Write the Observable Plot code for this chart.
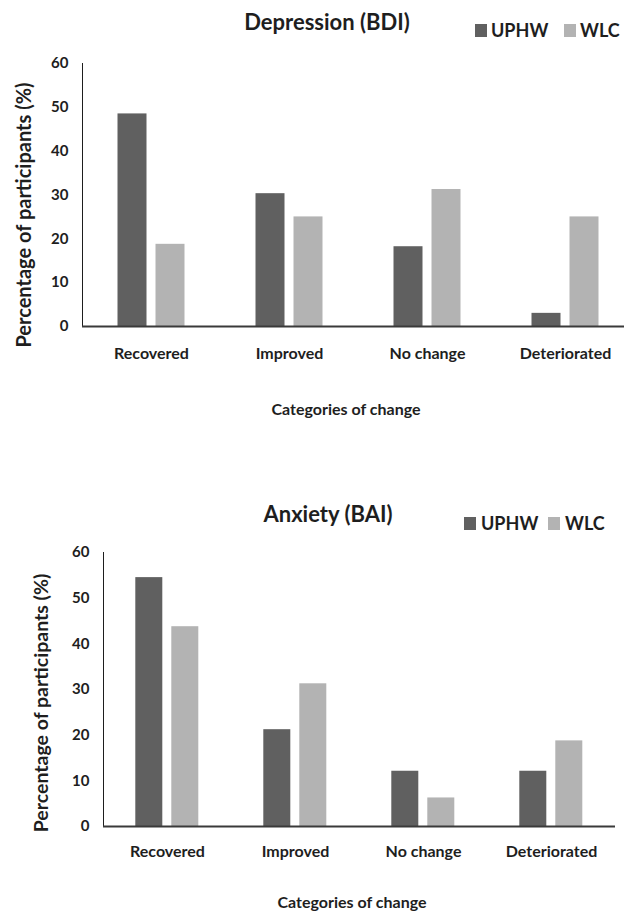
<!DOCTYPE html>
<html>
<head>
<meta charset="utf-8">
<script src="https://cdn.jsdelivr.net/npm/d3@7"></script>
<script src="https://cdn.jsdelivr.net/npm/@observablehq/plot@0.6"></script>
<style>
  html, body { margin: 0; padding: 0; background: #fff; overflow: hidden; }
  #page { position: relative; width: 624px; height: 916px; background: #fff; font-family: Lato, "Open Sans", sans-serif; font-weight: bold; color: #1e1e1e; }
  .abs { position: absolute; white-space: nowrap; line-height: 1; z-index: 2; }
  .c { transform: translate(-50%, -50%); }
  .l { transform: translateY(-50%); }
  .rot { transform: translate(-50%, -50%) rotate(-90deg); }
  .sw { position: absolute; width: 12px; height: 13px; z-index: 2; }
  .chart { position: absolute; left: 0; z-index: 1; }
  .chart svg { overflow: visible; }
  .chart [aria-label="y-axis tick label"] text, .chart g[aria-label="y-axis tick label"] { font-size: 15px; }
  .chart [aria-label="fx-axis tick label"] text, .chart g[aria-label="fx-axis tick label"] { font-size: 16px; }
</style>
</head>
<body>
<div id="page"></div>
<script>
// ---- data ----
const categories = ["Recovered", "Improved", "No change", "Deteriorated"];
const seriesNames = ["UPHW", "WLC"];
const depressionUPHW = [48.5, 30.3, 18.2, 3.0];
const depressionWLC = [18.75, 25, 31.25, 25];
const anxietyUPHW = [54.5, 21.2, 12.1, 12.1];
const anxietyWLC = [43.75, 31.25, 6.25, 18.75];
const yTicks = [0, 10, 20, 30, 40, 50, 60];
const colors = ["#606060", "#b3b3b3"];

function rows(u, w) {
  const out = [];
  categories.forEach((c, i) => {
    out.push({category: c, series: seriesNames[0], value: u[i]});
    out.push({category: c, series: seriesNames[1], value: w[i]});
  });
  return out;
}

function makeChart(data, o) {
  return Plot.plot({
    width: 624,
    height: o.height,
    marginLeft: o.marginLeft,
    marginRight: o.marginRight,
    marginTop: o.marginTop,
    marginBottom: o.marginBottom,
    style: {fontFamily: "Lato, 'Open Sans', sans-serif", fontWeight: "bold", fontSize: "15px", color: "#1e1e1e", background: "transparent"},
    fx: {domain: categories, padding: 0, axis: "bottom", tickSize: 0, tickPadding: o.fxPad, label: null},
    x: {domain: seriesNames, axis: null, paddingInner: o.pi, paddingOuter: o.po},
    y: {domain: [0, 60], ticks: yTicks, tickSize: 0, tickPadding: 14, label: null, line: true},
    color: {domain: seriesNames, range: colors},
    marks: [
      Plot.barY(data, {fx: "category", x: "series", y: "value", fill: "series"}),
      Plot.ruleY([0], {stroke: "#3a3a3a", strokeWidth: 2})
    ]
  });
}

const page = document.getElementById("page");

function addChart(svg, top) {
  const d = document.createElement("div");
  d.className = "chart";
  d.style.top = top + "px";
  d.appendChild(svg);
  page.appendChild(d);
}

function addText(text, x, y, size, cls) {
  const d = document.createElement("div");
  d.className = "abs " + cls;
  d.style.left = x + "px";
  d.style.top = y + "px";
  d.style.fontSize = size + "px";
  d.textContent = text;
  page.appendChild(d);
}

function addSwatch(color, x, y) {
  const d = document.createElement("div");
  d.className = "sw";
  d.style.left = x + "px";
  d.style.top = (y - 6.5) + "px";
  d.style.background = color;
  page.appendChild(d);
}

// Top chart: Depression
addChart(makeChart(rows(depressionUPHW, depressionWLC), {
  height: 372, marginTop: 63, marginBottom: 46, marginLeft: 81.5, marginRight: -11,
  pi: 0.23, po: 0.89, fxPad: 21
}), 0);

// Bottom chart: Anxiety
addChart(makeChart(rows(anxietyUPHW, anxietyWLC), {
  height: 410, marginTop: 92, marginBottom: 44, marginLeft: 101.7, marginRight: 8,
  pi: 0.243, po: 0.86, fxPad: 19
}), 460);

// titles
addText("Depression (BDI)", 327, 22, 22, "c");
addText("Anxiety (BAI)", 328, 514, 22, "c");

// legends
addSwatch(colors[0], 475, 30); addText(seriesNames[0], 491, 30, 18, "l");
addSwatch(colors[1], 564, 30); addText(seriesNames[1], 580, 30, 18, "l");
addSwatch(colors[0], 464, 523); addText(seriesNames[0], 481, 523, 18, "l");
addSwatch(colors[1], 548, 523); addText(seriesNames[1], 565, 523, 18, "l");

// axis titles
addText("Percentage of participants (%)", 23, 215, 20, "rot");
addText("Percentage of participants (%)", 41, 703, 19.5, "rot");
addText("Categories of change", 346, 409, 16, "c");
addText("Categories of change", 352, 902, 16, "c");
</script>
</body>
</html>
